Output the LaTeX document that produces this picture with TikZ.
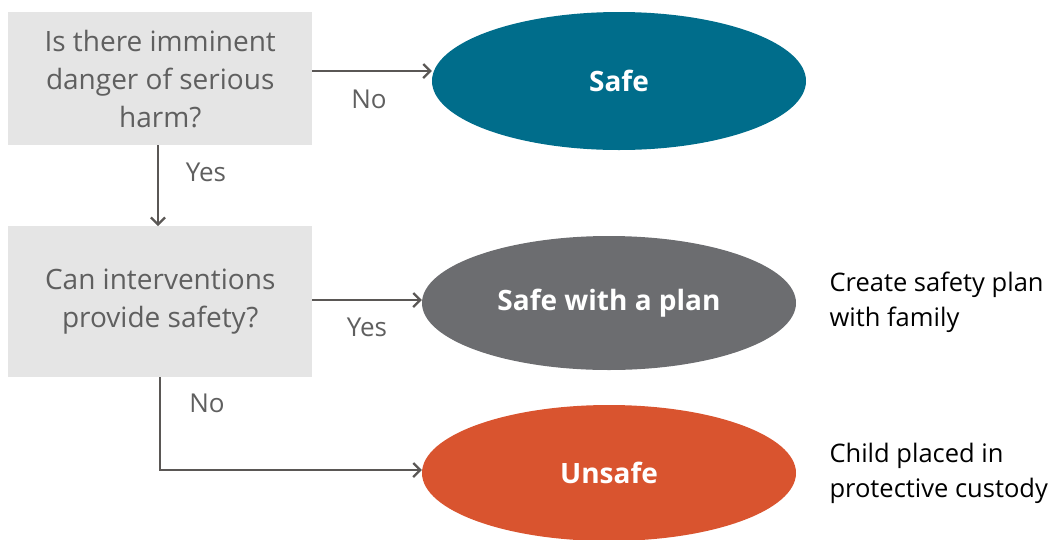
\documentclass[tikz,border=0pt]{standalone}
\usepackage{fontspec}
\setmainfont{Open Sans}
\usetikzlibrary{shapes.geometric,arrows.meta}
\definecolor{boxfill}{HTML}{E5E5E5}
\definecolor{boxtext}{HTML}{5F5F5F}
\definecolor{linecol}{HTML}{5A5755}
\definecolor{safecol}{HTML}{006D8B}
\definecolor{plancol}{HTML}{6C6D70}
\definecolor{unsafecol}{HTML}{D9542F}
\begin{document}
\begin{tikzpicture}[x=1pt,y=-1pt,
  question/.style={fill=boxfill,draw=none,minimum width=304pt,anchor=north west,
    text=boxtext,align=center,inner sep=0pt,
    font=\fontsize{28}{38}\selectfont},
  outcome/.style={ellipse,draw=none,inner sep=0pt,text=white,
    font=\fontsize{28}{32}\selectfont\bfseries},
  flow/.style={draw=linecol,line width=2.2pt,-{Straight Barb[length=7pt,width=14pt,line width=2.2pt]}},
  edgelabel/.style={text=boxtext,font=\fontsize{26}{30}\selectfont},
  note/.style={text=black,align=left,anchor=west,font=\fontsize{25.5}{35}\selectfont}]
\useasboundingbox (0,0) rectangle (1053,539);

% decision boxes
\node[question,minimum height=133pt] (q1) at (8,12)
  {Is there imminent\\danger of serious\\harm?};
\node[question,minimum height=151pt] (q2) at (8,226)
  {Can interventions\\provide safety?};

% outcomes
\node[outcome,fill=safecol,minimum width=374pt,minimum height=138pt] (safe) at (619,81) {Safe};
\node[outcome,fill=plancol,minimum width=374pt,minimum height=134pt] (plan) at (609,303) {Safe with a plan};
\node[outcome,fill=unsafecol,minimum width=374pt,minimum height=136pt] (unsafe) at (609,473) {Unsafe};

% connectors
\coordinate (bend) at (160,470);
\draw[flow] (q1.east |- 0,71) -- (safe.west |- 0,71);
\draw[flow] (158,145) -- (q2.north -| 158,0);
\draw[flow] (q2.east |- 0,300) -- (plan.west |- 0,300);
\draw[flow] (q2.south -| 160,0) -- (bend) -- (unsafe.west |- bend);

% branch labels
\node[edgelabel] (lno1) at (369,99) {No};
\node[edgelabel] (lyes1) at (206,172) {Yes};
\node[edgelabel] (lyes2) at (367,327) {Yes};
\node[edgelabel] (lno2) at (207,403) {No};

% side notes
\node[note] (n1) at (826,302) {Create safety plan\\with family};
\node[note] (n2) at (826,473) {Child placed in\\protective custody};
\end{tikzpicture}
\end{document}
